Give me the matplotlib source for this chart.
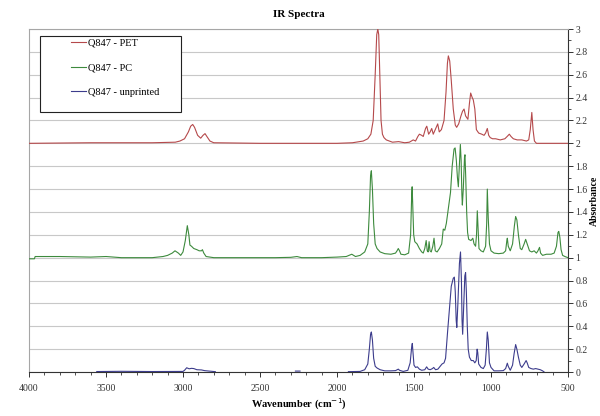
import numpy as np
import matplotlib
matplotlib.use("Agg")
import matplotlib.pyplot as plt
from matplotlib.patches import Rectangle
from matplotlib.ticker import MultipleLocator, FuncFormatter

plt.rcParams.update({
    "font.family": "Liberation Serif",
    "font.size": 7,
})

nan = np.nan

# --- Q847 - PET (offset +2) ------------------------------------------------
pet_wn = [4000, 3600, 3200, 3050, 3020, 2990, 2965, 2950, 2937, 2925, 2905,
          2885, 2870, 2857, 2845, 2825, 2800, 2500, 2200, 2000, 1900, 1830,
          1800, 1780, 1765, 1752, 1742, 1735, 1729, 1722, 1714, 1705, 1695,
          1680, 1640, 1600, 1560, 1530, 1505, 1490, 1475, 1465, 1450, 1440,
          1425, 1417, 1405, 1395, 1385, 1375, 1362, 1346, 1336, 1322, 1305,
          1292, 1283, 1277, 1268, 1258, 1245, 1232, 1223, 1210, 1195, 1185,
          1175, 1165, 1150, 1140, 1132, 1122, 1115, 1105, 1095, 1080, 1060,
          1045, 1035, 1024, 1015, 1005, 990, 970, 940, 910, 895, 881, 870,
          855, 830, 800, 770, 755, 745, 735, 727, 718, 705, 650, 600, 500]
pet_ab = [2.0, 2.005, 2.005, 2.01, 2.02, 2.04, 2.10, 2.15, 2.165, 2.14, 2.07,
          2.045, 2.07, 2.085, 2.06, 2.02, 2.005, 2.0, 2.0, 2.0, 2.005, 2.02,
          2.04, 2.08, 2.20, 2.60, 2.95, 3.0, 2.95, 2.60, 2.20, 2.08, 2.05,
          2.03, 2.01, 2.015, 2.005, 2.01, 2.03, 2.02, 2.06, 2.08, 2.07, 2.06,
          2.13, 2.15, 2.08, 2.10, 2.13, 2.08, 2.12, 2.17, 2.10, 2.12, 2.20,
          2.45, 2.70, 2.765, 2.72, 2.55, 2.30, 2.16, 2.14, 2.17, 2.24, 2.28,
          2.30, 2.24, 2.21, 2.35, 2.44, 2.40, 2.38, 2.30, 2.12, 2.09, 2.08,
          2.07, 2.09, 2.13, 2.07, 2.05, 2.04, 2.04, 2.03, 2.04, 2.06, 2.08, 2.06,
          2.04, 2.03, 2.03, 2.02, 2.03, 2.12, 2.27, 2.12, 2.02, 2.0, 2.0, 2.0, 2.0]

# --- Q847 - PC (offset +1) -------------------------------------------------
pc_wn = [4000, 3965, 3960, 3800, 3600, 3500, 3400, 3200, 3130, 3100, 3070,
         3052, 3030, 3015, 3000, 2985, 2972, 2962, 2955, 2945, 2930, 2910,
         2895, 2880, 2874, 2865, 2850, 2800, 2600, 2400, 2300, 2260, 2230,
         2100, 2000, 1940, 1904, 1880, 1850, 1820, 1800, 1790, 1782, 1777,
         1770, 1762, 1752, 1740, 1720, 1690, 1650, 1620, 1610, 1602, 1594,
         1585, 1560, 1535, 1522, 1515, 1512, 1508, 1502, 1495, 1480, 1465,
         1450, 1440, 1430, 1421, 1414, 1408, 1402, 1396, 1388, 1378, 1370,
         1362, 1350, 1335, 1320, 1310, 1300, 1290, 1275, 1263, 1252, 1240,
         1233, 1225, 1218, 1212, 1206, 1199, 1194, 1189, 1186, 1180, 1172,
         1169, 1164, 1158, 1152, 1145, 1130, 1118, 1110, 1100, 1094, 1089,
         1084, 1078, 1065, 1050, 1035, 1028, 1024, 1018, 1010, 1000, 980,
         950, 920, 905, 897, 894, 888, 875, 860, 848, 840, 832, 822, 810,
         800, 785, 775, 765, 750, 735, 720, 705, 695, 685, 678, 665, 640,
         610, 590, 575, 565, 560, 553, 545, 535, 520, 500]
pc_ab = [0.99, 0.99, 1.01, 1.01, 1.005, 1.01, 1.0, 1.0, 1.01, 1.02, 1.04,
         1.06, 1.04, 1.02, 1.05, 1.15, 1.28, 1.20, 1.11, 1.10, 1.08, 1.07,
         1.06, 1.06, 1.07, 1.04, 1.01, 1.0, 1.0, 1.0, 1.003, 1.01, 1.0,
         1.0, 1.005, 1.01, 1.03, 1.01, 1.02, 1.05, 1.12, 1.40, 1.72, 1.76,
         1.60, 1.30, 1.12, 1.08, 1.05, 1.035, 1.03, 1.04, 1.06, 1.08, 1.06,
         1.03, 1.025, 1.04, 1.20, 1.55, 1.62, 1.45, 1.20, 1.14, 1.12, 1.08,
         1.05, 1.04, 1.08, 1.15, 1.06, 1.05, 1.14, 1.06, 1.05, 1.10, 1.17,
         1.06, 1.05, 1.08, 1.12, 1.25, 1.24, 1.30, 1.45, 1.57, 1.80, 1.95,
         1.96, 1.85, 1.70, 1.62, 1.80, 1.99, 1.85, 1.55, 1.46, 1.60, 1.88,
         1.90, 1.70, 1.40, 1.22, 1.16, 1.15, 1.17, 1.12, 1.10, 1.20, 1.41,
         1.25, 1.08, 1.06, 1.05, 1.10, 1.30, 1.60, 1.35, 1.12, 1.06, 1.04,
         1.035, 1.04, 1.06, 1.15, 1.17, 1.10, 1.06, 1.12, 1.28, 1.36, 1.33, 1.20, 1.08,
         1.07, 1.12, 1.16, 1.12, 1.06, 1.05, 1.06, 1.04, 1.06, 1.09, 1.04, 1.02, 1.03,
         1.03, 1.04, 1.10, 1.22, 1.23, 1.18, 1.07, 1.02, 1.01, 1.0]

# --- Q847 - unprinted (gaps where no data) ---------------------------------
unp_wn = [3560, 3400, 3200, 3000, 2990, 2976, 2960, 2945, 2930, 2910, 2880,
          2860, 2830, 2790, 2785, 2270, 2240, 2235, 1926, 1850, 1820, 1800,
          1790, 1782, 1777, 1770, 1762, 1752, 1740, 1720, 1690, 1650, 1620,
          1602, 1594, 1570, 1540, 1525, 1515, 1511, 1507, 1500, 1490, 1478,
          1465, 1450, 1430, 1418, 1408, 1395, 1380, 1372, 1360, 1345, 1330,
          1318, 1305, 1295, 1282, 1270, 1258, 1245, 1238, 1232, 1226, 1222,
          1215, 1205, 1198, 1192, 1188, 1184, 1178, 1170, 1165, 1160, 1154,
          1148, 1140, 1128, 1115, 1105, 1096, 1090, 1086, 1080, 1065, 1050,
          1038, 1030, 1024, 1018, 1010, 1000, 980, 950, 920, 905, 894, 888,
          875, 860, 850, 840, 832, 822, 810, 800, 785, 772, 765, 755, 740,
          725, 710, 695, 680, 665, 655]
unp_ab = [0.004, 0.006, 0.004, 0.005, 0.015, 0.037, 0.028, 0.032, 0.030, 0.020, 0.018,
          0.012, 0.008, 0.003, nan, 0.008, 0.008, nan, 0.003, 0.005, 0.02, 0.07,
          0.20, 0.33, 0.35, 0.28, 0.12, 0.05, 0.035, 0.02, 0.01, 0.01, 0.012,
          0.025, 0.015, 0.005, 0.015, 0.08, 0.22, 0.25, 0.18, 0.06, 0.04, 0.045,
          0.025, 0.015, 0.02, 0.045, 0.025, 0.02, 0.03, 0.04, 0.02, 0.025, 0.05,
          0.07, 0.08, 0.12, 0.35, 0.55, 0.75, 0.82, 0.83, 0.70, 0.45, 0.39,
          0.60, 0.95, 1.05, 0.80, 0.45, 0.33, 0.55, 0.84, 0.87, 0.70, 0.40,
          0.20, 0.13, 0.10, 0.10, 0.08, 0.10, 0.20, 0.17, 0.07, 0.04, 0.03,
          0.06, 0.20, 0.35, 0.28, 0.08, 0.04, 0.01, 0.01, 0.012, 0.03, 0.077, 0.05,
          0.015, 0.06, 0.16, 0.24, 0.20, 0.13, 0.06, 0.04, 0.07, 0.10, 0.08, 0.04, 0.03,
          0.025, 0.03, 0.025, 0.02, 0.01, 0.0]

SERIES = [
    ("Q847 - PET",       pet_wn, pet_ab, "#b5494b"),
    ("Q847 - PC",        pc_wn,  pc_ab,  "#3d8a3d"),
    ("Q847 - unprinted", unp_wn, unp_ab, "#3c3c8c"),
]

fig = plt.figure(figsize=(6.0, 4.16), dpi=100)
ax = fig.add_axes([29 / 600, 1 - 372 / 416, 539 / 600, 343 / 416])

for label, wn, ab, colour in SERIES:
    ax.plot(wn, ab, color=colour, lw=0.8, label=label, zorder=3)

ax.set_xlim(4000, 500)
ax.set_ylim(0, 3)
ax.xaxis.set_major_locator(MultipleLocator(500))
ax.xaxis.set_minor_locator(MultipleLocator(100))
ax.yaxis.set_major_locator(MultipleLocator(0.2))
ax.yaxis.set_minor_locator(MultipleLocator(0.1))
ax.yaxis.set_major_formatter(FuncFormatter(lambda v, _: f"{v:g}"))
ax.yaxis.tick_right()
ax.yaxis.set_label_position("right")
ax.grid(axis="y", color="#c8c8c8", lw=0.8, zorder=0)
ax.set_axisbelow(True)

ax.tick_params(axis="both", which="major", length=3.5, width=0.7,
               colors="#333333", labelsize=7, direction="out")
ax.tick_params(axis="x", which="major", pad=5)
ax.tick_params(axis="y", which="major", pad=2)
ax.tick_params(axis="both", which="minor", length=2, width=0.6,
               colors="#333333", direction="out")
for side in ("top", "left"):
    ax.spines[side].set_color("#a6a6a6")
    ax.spines[side].set_linewidth(0.8)
for side in ("bottom", "right"):
    ax.spines[side].set_color("#333333")
    ax.spines[side].set_linewidth(0.8)

ax.set_xlabel("Wavenumber (cm$^{-1}$)", fontsize=7.5, fontweight="bold",
              labelpad=3)
ax.set_ylabel("Absorbance", fontsize=7, fontweight="bold")
ax.yaxis.set_label_coords(1.041, 0.5)
ax.set_title("IR Spectra", fontsize=8, fontweight="bold", pad=9)

# legend box + entries
ax.add_patch(Rectangle((0.0204, 0.758), 0.2616, 0.2216, transform=ax.transAxes,
                       facecolor="white", edgecolor="#222222", lw=0.8, zorder=4))
leg = ax.legend(loc="upper left", bbox_to_anchor=(0.078, 0.972), frameon=False,
                borderpad=0, borderaxespad=0, handlelength=1.4,
                handletextpad=0.25, labelspacing=1.45, fontsize=7.5)
leg.set_zorder(5)

fig.savefig("out.png", dpi=100)
